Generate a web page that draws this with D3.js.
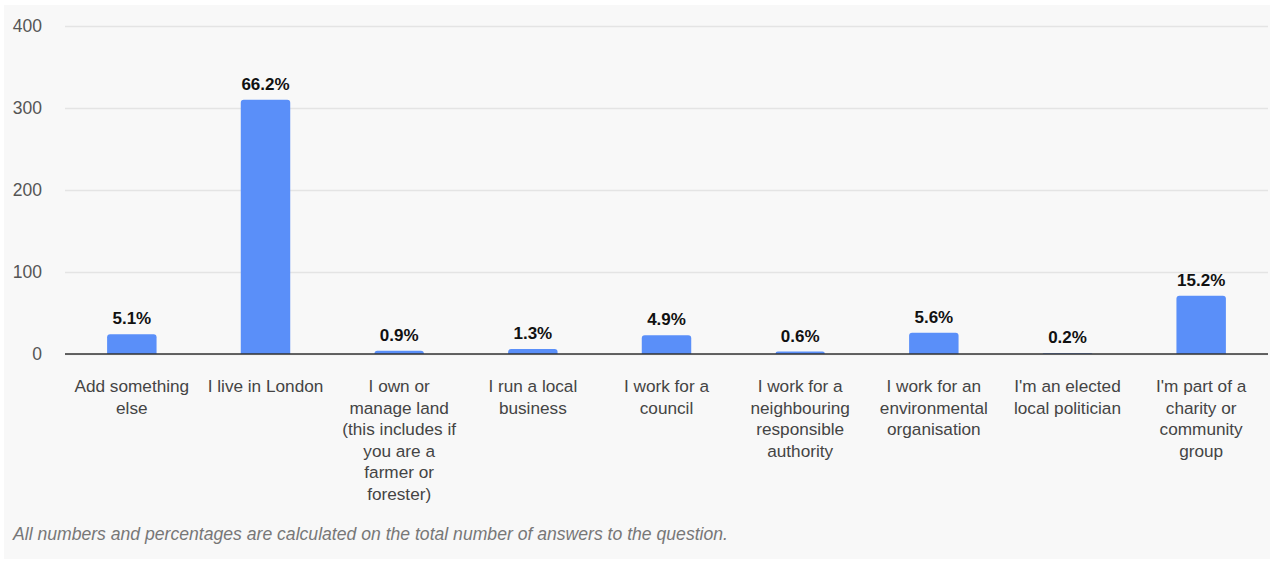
<!DOCTYPE html>
<html>
<head>
<meta charset="utf-8">
<script src="https://cdn.jsdelivr.net/npm/d3@7"></script>
<style>
  html, body { margin: 0; padding: 0; background: #ffffff; }
  svg { display: block; font-family: "Liberation Sans", Arial, sans-serif; }
</style>
</head>
<body>
<svg id="chart" width="1274" height="563"></svg>
<script>
// Respondent categories (line breaks mark where each label wraps)
const categories = [
  "Add something\nelse",
  "I live in London",
  "I own or\nmanage land\n(this includes if\nyou are a\nfarmer or\nforester)",
  "I run a local\nbusiness",
  "I work for a\ncouncil",
  "I work for a\nneighbouring\nresponsible\nauthority",
  "I work for an\nenvironmental\norganisation",
  "I'm an elected\nlocal politician",
  "I'm part of a\ncharity or\ncommunity\ngroup"
];
// Number of answers per category
const counts = [24, 310, 4, 6, 23, 3, 26, 1, 71];
// Share of all answers, as labelled above each bar
const percentLabels = ["5.1%", "66.2%", "0.9%", "1.3%", "4.9%", "0.6%", "5.6%", "0.2%", "15.2%"];
const yTicks = [0, 100, 200, 300, 400];
const footnote = "All numbers and percentages are calculated on the total number of answers to the question.";

const svg = d3.select("#chart");
const W = 1274, H = 563;
const margin = { left: 65, right: 6, top: 26, baseline: 354 };

// light panel behind the chart
svg.append("rect")
  .attr("x", 4).attr("y", 5)
  .attr("width", W - 8).attr("height", H - 9)
  .attr("fill", "#f8f8f8");

const x = d3.scaleBand()
  .domain(d3.range(categories.length))
  .range([margin.left, W - margin.right])
  .paddingInner(0.63)
  .paddingOuter(0.315);

const y = d3.scaleLinear()
  .domain([0, 400])
  .range([margin.baseline, margin.top]);

// horizontal gridlines and y tick labels
const yAxis = d3.axisLeft(y)
  .tickValues(yTicks)
  .tickSize(-(W - margin.right - margin.left))
  .tickPadding(23)
  .tickFormat(d3.format("d"));

const gy = svg.append("g")
  .attr("transform", `translate(${margin.left},0)`)
  .call(yAxis);
gy.select(".domain").remove();
gy.selectAll(".tick line")
  .attr("stroke", "#e4e4e4")
  .attr("stroke-width", 1.5);
gy.selectAll(".tick text")
  .attr("fill", "#555555")
  .attr("font-size", 17.5);

// bars with rounded top corners
const r = 3;
function barPath(d, i) {
  const x0 = x(i), w = x.bandwidth();
  const y0 = y(d), y1 = y(0);
  const h = y1 - y0;
  const rr = Math.min(r, h, w / 2);
  return `M${x0},${y1}V${y0 + rr}Q${x0},${y0} ${x0 + rr},${y0}` +
         `H${x0 + w - rr}Q${x0 + w},${y0} ${x0 + w},${y0 + rr}V${y1}Z`;
}

svg.append("g")
  .selectAll("path")
  .data(counts)
  .join("path")
  .attr("d", (d, i) => barPath(d, i))
  .attr("fill", "#5a8ff9");

// baseline
svg.append("line")
  .attr("x1", margin.left).attr("x2", W - margin.right)
  .attr("y1", y(0)).attr("y2", y(0))
  .attr("stroke", "#333333")
  .attr("stroke-width", 1.5);

// value labels above bars
svg.append("g")
  .selectAll("text")
  .data(counts)
  .join("text")
  .attr("x", (d, i) => x(i) + x.bandwidth() / 2)
  .attr("y", d => y(d) - 10)
  .attr("text-anchor", "middle")
  .attr("font-size", 17)
  .attr("font-weight", "bold")
  .attr("fill", "#111111")
  .text((d, i) => percentLabels[i]);

// category labels
const catG = svg.append("g")
  .selectAll("text")
  .data(categories)
  .join("text")
  .attr("x", (d, i) => x(i) + x.bandwidth() / 2)
  .attr("y", 392)
  .attr("text-anchor", "middle")
  .attr("font-size", 17.2)
  .attr("fill", "#444444");

catG.each(function(d) {
  const t = d3.select(this);
  const cx = t.attr("x");
  d.split("\n").forEach((line, k) => {
    t.append("tspan")
      .attr("x", cx)
      .attr("dy", k === 0 ? 0 : 21.6)
      .text(line);
  });
});

// footnote
svg.append("text")
  .attr("x", 13)
  .attr("y", 540)
  .attr("font-size", 17.6)
  .attr("font-style", "italic")
  .attr("fill", "#777777")
  .text(footnote);
</script>
</body>
</html>
